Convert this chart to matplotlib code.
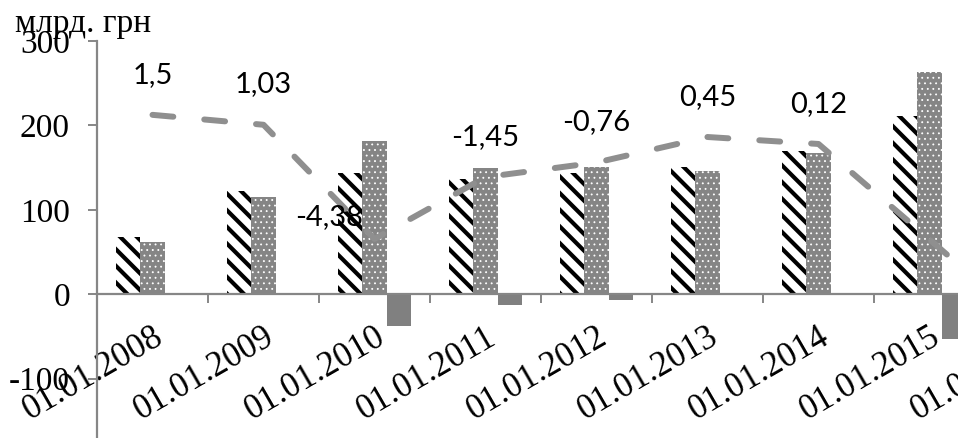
import numpy as np
import matplotlib
matplotlib.use("Agg")
import matplotlib.pyplot as plt

# ---- data ----
categories = ["01.01.2008", "01.01.2009", "01.01.2010", "01.01.2011", "01.01.2012",
              "01.01.2013", "01.01.2014", "01.01.2015", "01.01.2016"]
series_hatched = [68, 122, 144, 137, 144, 151, 170, 211, np.nan]
series_dotted = [62, 115, 181, 150, 151, 146, 167, 263, np.nan]
series_solid = [0, 0, -38, -13, -7, 0, 0, -53, np.nan]
line_values = [1.5, 1.03, -4.38, -1.45, -0.76, 0.45, 0.12, -4.4, -9.0]
line_labels = ["1,5", "1,03", "-4,38", "-1,45", "-0,76", "0,45", "0,12", "", ""]
y_ticks = [-100, 0, 100, 200, 300]
unit_label = "млрд. грн"

# label offsets (points)
label_offsets = [(0, 29), (0, 29), (-33, 16), (0, 29), (0, 29), (0, 29), (0, 29), (0, 29), (0, 29)]

W, H = 958, 438
fig = plt.figure(figsize=(W / 100, H / 100), dpi=100)
# plot area extends beyond the figure (the reference is cropped)
ax = fig.add_axes([97 / W, -25 / H, 999 / W, 422 / H])

x = np.arange(len(categories))
bw = 0.22
gray_axis = "#868686"

with plt.rc_context({"hatch.linewidth": 3.0}):
    ax.bar(x - bw, series_hatched, bw, color="white", edgecolor="black",
           linewidth=0, hatch="\\\\", zorder=2)
with plt.rc_context({"hatch.linewidth": 0.6}):
    ax.bar(x, series_dotted, bw, color="#858585", edgecolor="white",
           linewidth=0, hatch="...", zorder=2)
ax.bar(x + bw, series_solid, bw, color="#808080", linewidth=0, zorder=2)

ax.set_xlim(-0.5, len(categories) - 0.5)
ax.set_ylim(-200, 300)
ax.set_yticks(y_ticks)
ax.set_yticklabels([str(v) for v in y_ticks])

for s in ["top", "right"]:
    ax.spines[s].set_visible(False)
ax.spines["left"].set_color(gray_axis)
ax.spines["left"].set_linewidth(1.6)
ax.spines["bottom"].set_color(gray_axis)
ax.spines["bottom"].set_linewidth(1.6)
ax.spines["bottom"].set_position(("data", 0))

ax.tick_params(axis="y", direction="out", length=6.5, width=1.4, color=gray_axis,
               pad=13, labelsize=24)
for lab in ax.get_yticklabels():
    lab.set_fontfamily("Liberation Serif")

ax.set_xticks(np.arange(-0.5, len(categories), 1.0))
ax.set_xticklabels([])
ax.tick_params(axis="x", which="major", direction="out", length=6.5, width=1.4,
               color=gray_axis)
ax.set_xticks(x, labels=categories, minor=True)
ax.tick_params(axis="x", which="minor", length=0, pad=19, labelsize=25, labelrotation=30)
for lab in ax.get_xticklabels(minor=True):
    lab.set_fontfamily("Liberation Serif")
    lab.set_ha("right")
    lab.set_va("top")
    lab.set_rotation_mode("anchor")

# secondary (hidden) axis for the dashed line
ax2 = ax.twinx()
ax2.set_ylim(-15, 5)
ax2.set_axis_off()
ax2.plot(x, line_values, color="#8f8f8f", lw=4.3, dashes=(3.5, 5.2),
         dash_capstyle="round", solid_capstyle="round", zorder=3)
for xi, v, t, off in zip(x, line_values, line_labels, label_offsets):
    if t:
        ax2.annotate(t, (xi, v), xytext=off, textcoords="offset points",
                     ha="center", va="center", fontsize=21, family="Lato",
                     color="black", zorder=4)

fig.text(15 / W, 1 - 32 / H, unit_label, ha="left", va="baseline", fontsize=24,
         family="Liberation Serif")

fig.savefig("out.png", dpi=100)
